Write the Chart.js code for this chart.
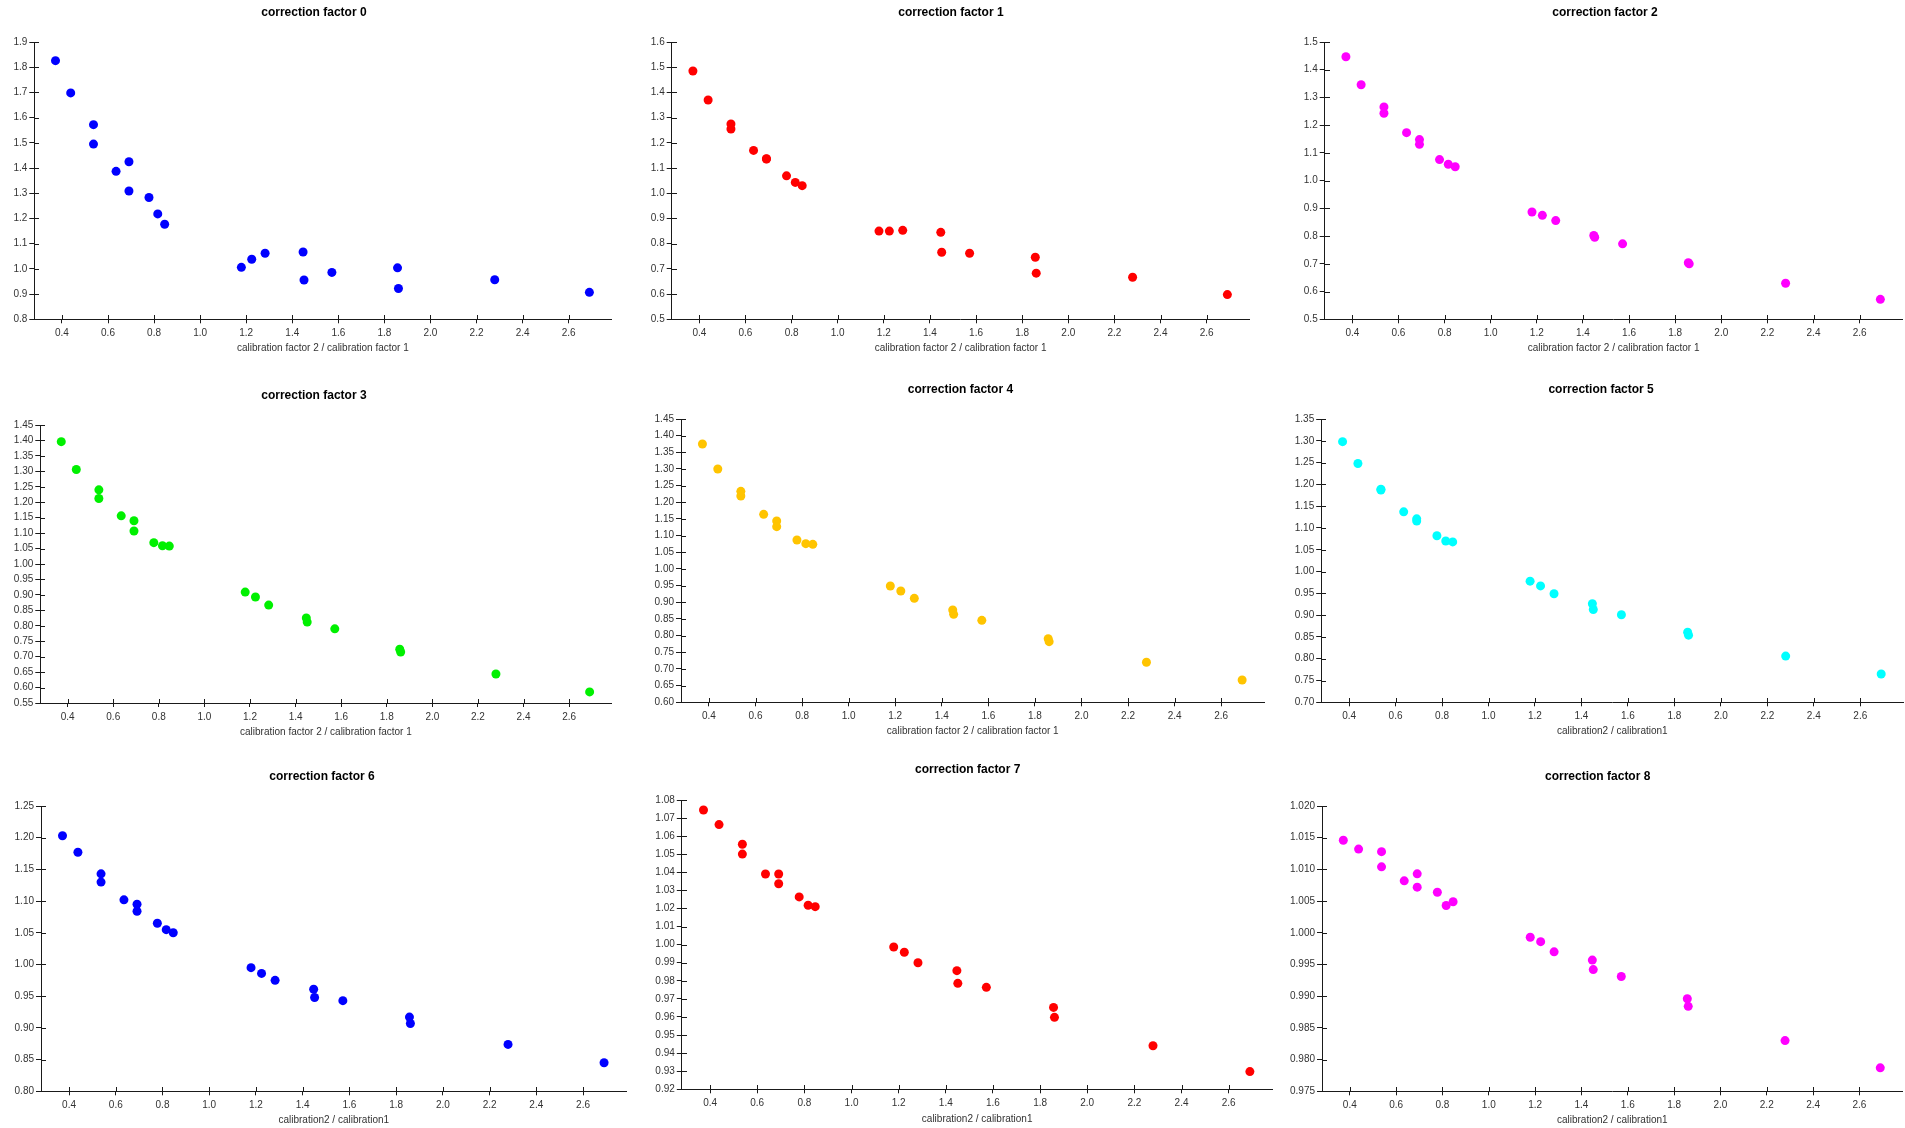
<!DOCTYPE html>
<html>
<head>
<meta charset="utf-8">
<title>Correction factors versus calibration ratio</title>
<script src="https://cdn.jsdelivr.net/npm/chart.js@4/dist/chart.umd.min.js"></script>
<style>
  html, body { margin: 0; padding: 0; background: #fff; overflow: hidden; width: 1905px; height: 1128px; position: relative; }
  canvas { position: absolute; }
</style>
</head>
<body>
<script>
// Calibration ratio shared by every panel (x values)
const calibrationRatio = [0.372, 0.438, 0.537, 0.537, 0.635, 0.691, 0.691, 0.778, 0.816, 0.846,
                          1.179, 1.224, 1.282, 1.447, 1.451, 1.572, 1.857, 1.861, 2.279, 2.690];

// Correction factor values, one array per panel
const correction0 = [1.826, 1.698, 1.572, 1.495, 1.387, 1.425, 1.309, 1.283, 1.218, 1.177,
                     1.006, 1.038, 1.062, 1.067, 0.956, 0.986, 1.004, 0.922, 0.957, 0.907];
const correction1 = [1.485, 1.370, 1.275, 1.255, 1.170, 1.137, 1.136, 1.069, 1.043, 1.030,
                     0.850, 0.850, 0.853, 0.845, 0.766, 0.762, 0.746, 0.683, 0.667, 0.598];
const correction2 = [1.447, 1.346, 1.266, 1.243, 1.173, 1.148, 1.131, 1.076, 1.059, 1.050,
                     0.887, 0.875, 0.856, 0.802, 0.796, 0.772, 0.704, 0.700, 0.630, 0.572];
const correction3 = [1.396, 1.306, 1.240, 1.212, 1.156, 1.140, 1.107, 1.069, 1.059, 1.058,
                     0.909, 0.893, 0.867, 0.825, 0.812, 0.790, 0.724, 0.715, 0.644, 0.586];
const correction4 = [1.375, 1.300, 1.233, 1.219, 1.164, 1.144, 1.127, 1.087, 1.076, 1.074,
                     0.949, 0.934, 0.912, 0.877, 0.864, 0.846, 0.791, 0.782, 0.720, 0.667];
const correction5 = [1.298, 1.248, 1.189, 1.187, 1.137, 1.121, 1.116, 1.082, 1.070, 1.068,
                     0.978, 0.967, 0.949, 0.926, 0.913, 0.901, 0.861, 0.854, 0.806, 0.765];
const correction6 = [1.203, 1.177, 1.143, 1.130, 1.102, 1.095, 1.084, 1.065, 1.055, 1.050,
                     0.995, 0.986, 0.975, 0.961, 0.948, 0.943, 0.917, 0.907, 0.874, 0.845];
const correction7 = [1.0745, 1.0664, 1.0555, 1.0501, 1.0391, 1.0391, 1.0337, 1.0264, 1.0218, 1.0210,
                     0.9987, 0.9958, 0.9900, 0.9856, 0.9786, 0.9764, 0.9653, 0.9598, 0.9441, 0.9298];
const correction8 = [1.0146, 1.0132, 1.0128, 1.0104, 1.0082, 1.0093, 1.0072, 1.0064, 1.0043, 1.0049,
                     0.9993, 0.9986, 0.9970, 0.9957, 0.9942, 0.9931, 0.9896, 0.9884, 0.9830, 0.9787];

const correctionSeries = [correction0, correction1, correction2, correction3, correction4,
                          correction5, correction6, correction7, correction8];

const panelTitles = ['correction factor 0', 'correction factor 1', 'correction factor 2',
                     'correction factor 3', 'correction factor 4', 'correction factor 5',
                     'correction factor 6', 'correction factor 7', 'correction factor 8'];

const xAxisTitles = ['calibration factor 2 / calibration factor 1', 'calibration factor 2 / calibration factor 1',
                     'calibration factor 2 / calibration factor 1', 'calibration factor 2 / calibration factor 1',
                     'calibration factor 2 / calibration factor 1', 'calibration2 / calibration1',
                     'calibration2 / calibration1', 'calibration2 / calibration1', 'calibration2 / calibration1'];

// Tick labels
const xTickValues = [0.4, 0.6, 0.8, 1.0, 1.2, 1.4, 1.6, 1.8, 2.0, 2.2, 2.4, 2.6];
const yTickRanges = [[0.8, 1.9, 0.1], [0.5, 1.6, 0.1], [0.5, 1.5, 0.1],
                     [0.55, 1.45, 0.05], [0.6, 1.45, 0.05], [0.7, 1.35, 0.05],
                     [0.8, 1.25, 0.05], [0.92, 1.08, 0.01], [0.975, 1.02, 0.005]];
const yTickDecimals = [1, 1, 1, 2, 2, 2, 2, 2, 3];

// ---- styling and placement ----
const markerColours = ['#0000ff', '#ff0000', '#ff00ff', '#00f000', '#ffc400', '#00ffff', '#0000ff', '#ff0000', '#ff00ff'];
const X_MIN = 0.28, X_MAX = 2.786;
const AXIS_COLOUR = '#1a1a1a';
const LABEL_COLOUR = '#333333';
const FONT = '"Liberation Sans", Arial, sans-serif';

// plot rectangle (page px), title centre and x-axis title centre for each panel
const frames = [
  { left: 34.3,   top: 42,  right: 616,    bottom: 319.3,  titleX: 313.9,  titleY: 12.7,  axisTitleY: 348 },
  { left: 671.7,  top: 42,  right: 1253.3, bottom: 319.3,  titleX: 950.9,  titleY: 12.7,  axisTitleY: 348 },
  { left: 1324.7, top: 42,  right: 1907,   bottom: 319.3,  titleX: 1605,   titleY: 12.7,  axisTitleY: 348 },
  { left: 40.3,   top: 425, right: 615.4,  bottom: 703,    titleX: 313.9,  titleY: 395.7, axisTitleY: 732 },
  { left: 681,    top: 419, right: 1268.3, bottom: 702.3,  titleX: 960.4,  titleY: 389.3, axisTitleY: 731.7 },
  { left: 1321.2, top: 419, right: 1907.6, bottom: 702.3,  titleX: 1601.1, titleY: 389.3, axisTitleY: 731.7 },
  { left: 41,     top: 806, right: 631,    bottom: 1091.3, titleX: 322,    titleY: 776.3, axisTitleY: 1120 },
  { left: 681.8,  top: 800, right: 1277,   bottom: 1089.3, titleX: 967.7,  titleY: 769.7, axisTitleY: 1119.3 },
  { left: 1322,   top: 806, right: 1907,   bottom: 1091.3, titleX: 1597.7, titleY: 776.3, axisTitleY: 1120 }
];
const columnStarts = [0, 635, 1270];
const rowStarts = [0, 375, 755];

Chart.defaults.font.family = FONT;

// tick marks cross the axis lines: draw the inner half of each tick
const innerTicks = {
  id: 'innerTicks',
  afterDraw(chart) {
    const { ctx, chartArea, scales } = chart;
    const xs = scales.x, ys = scales.y;
    ctx.save();
    ctx.strokeStyle = AXIS_COLOUR;
    ctx.lineWidth = 1;
    ctx.beginPath();
    xs.ticks.forEach(t => {
      const px = Math.round(xs.getPixelForValue(t.value)) + 0.5;
      const py = Math.round(chartArea.bottom);
      ctx.moveTo(px, py);
      ctx.lineTo(px, py - 4);
    });
    ys.ticks.forEach(t => {
      const py = Math.round(ys.getPixelForValue(t.value)) + 0.5;
      const px = Math.round(chartArea.left);
      ctx.moveTo(px, py);
      ctx.lineTo(px + 5, py);
    });
    ctx.stroke();
    ctx.restore();
  }
};

// bold panel heading, centred on a given point of the canvas
const panelHeading = {
  id: 'panelHeading',
  afterDraw(chart, args, opts) {
    const ctx = chart.ctx;
    ctx.save();
    ctx.fillStyle = '#000';
    ctx.font = 'bold 12px ' + FONT;
    ctx.textAlign = 'center';
    ctx.textBaseline = 'middle';
    ctx.fillText(opts.text, opts.x, opts.y);
    ctx.restore();
  }
};

function yTicksFor(i) {
  const [lo, hi, step] = yTickRanges[i];
  const n = Math.round((hi - lo) / step);
  const out = [];
  for (let k = 0; k <= n; k++) out.push(+(lo + k * step).toFixed(yTickDecimals[i] + 2));
  return out;
}

function makePanel(i) {
  const f = frames[i];
  const cL = columnStarts[i % 3];
  const cT = rowStarts[Math.floor(i / 3)];
  const W = Math.ceil(f.right - cL);
  const H = Math.ceil(f.bottom + 46 - cT);
  const padR = cL + W - f.right;
  const padT = f.top - cT;
  const yW = f.left - cL;
  const xH = cT + H - f.bottom;

  const axisLH = 12;
  const axPadBottom = xH - (f.axisTitleY - f.bottom) - axisLH / 2;

  const cv = document.createElement('canvas');
  cv.width = W; cv.height = H;
  cv.style.left = cL + 'px'; cv.style.top = cT + 'px';
  cv.style.width = W + 'px'; cv.style.height = H + 'px';
  document.body.appendChild(cv);

  const yTicks = yTicksFor(i);
  const [yMin, yMax] = yTickRanges[i];
  const dec = yTickDecimals[i];

  new Chart(cv, {
    type: 'scatter',
    data: {
      datasets: [{
        label: panelTitles[i],
        data: calibrationRatio.map((x, k) => ({ x: x, y: correctionSeries[i][k] })),
        backgroundColor: markerColours[i],
        borderWidth: 0,
        pointRadius: 4.5,
        pointHoverRadius: 4.5
      }]
    },
    options: {
      responsive: false,
      animation: false,
      events: [],
      devicePixelRatio: 1,
      layout: { padding: { left: 0, right: padR, top: padT, bottom: 0 } },
      plugins: {
        legend: { display: false },
        tooltip: { enabled: false },
        title: { display: false },
        panelHeading: { text: panelTitles[i], x: f.titleX - cL, y: f.titleY - cT }
      },
      scales: {
        x: {
          type: 'linear',
          min: X_MIN,
          max: X_MAX,
          afterFit: s => { s.height = xH; },
          afterBuildTicks: s => { s.ticks = xTickValues.map(v => ({ value: v })); },
          grid: { drawOnChartArea: false, drawTicks: true, tickLength: 4, color: AXIS_COLOUR },
          border: { display: true, color: AXIS_COLOUR, width: 1 },
          ticks: {
            color: LABEL_COLOUR, font: { size: 10 }, padding: 4, maxRotation: 0, autoSkip: false,
            callback: v => Number(v).toFixed(1)
          },
          title: {
            display: true, text: xAxisTitles[i], color: LABEL_COLOUR,
            font: { size: 10, lineHeight: 1.2 }, padding: { top: 0, bottom: axPadBottom }
          }
        },
        y: {
          type: 'linear',
          min: yMin,
          max: yMax,
          afterFit: s => { s.width = yW; },
          afterBuildTicks: s => { s.ticks = yTicks.map(v => ({ value: v })); },
          grid: { drawOnChartArea: false, drawTicks: true, tickLength: 5, color: AXIS_COLOUR },
          border: { display: true, color: AXIS_COLOUR, width: 1 },
          ticks: {
            color: LABEL_COLOUR, font: { size: 10 }, padding: 2, autoSkip: false,
            callback: v => Number(v).toFixed(dec)
          }
        }
      }
    },
    plugins: [innerTicks, panelHeading]
  });
}

for (let i = 0; i < 9; i++) makePanel(i);
</script>
</body>
</html>
